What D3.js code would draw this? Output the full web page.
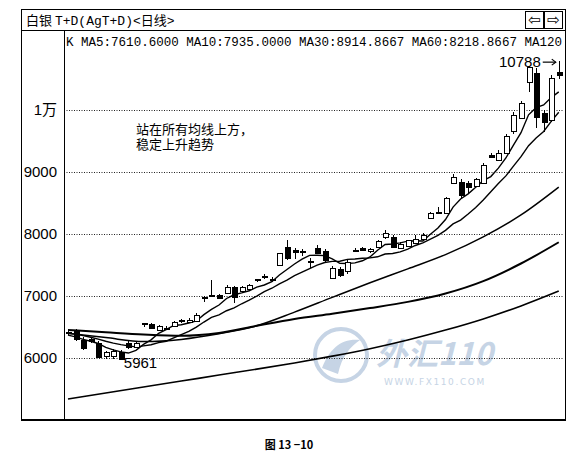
<!DOCTYPE html>
<html>
<head>
<meta charset="utf-8">
<script src="https://cdn.jsdelivr.net/npm/d3@7"></script>
<style>
  body { margin: 0; background: #fff; }
  svg { display: block; }
</style>
</head>
<body>
<div id="chart"></div>
<script>
// daily candles
const openVals = [6420, 6435, 6290, 6300, 6250, 6020, 6030, 6100, 6250, 6180,
  6560, 6550, 6450, 6490, 6520, 6610, 6580, 6600, 6980, 7010,
  7020, 7050, 7150, 7080, 7110, 7260, 7310, 7270, 7500, 7790,
  7750, 7720, 7550, 7780, 7720, 7290, 7440, 7400, 7740, 7780,
  7720, 7780, 7940, 7950, 7780, 7800, 7850, 7920, 8260, 8360,
  8340, 8830, 8840, 8820, 8770, 8820, 9280, 9200, 9310, 9660,
  9870, 10450, 10600, 9950, 9840, 10620];
const highVals = [6460, 6470, 6340, 6330, 6280, 6110, 6140, 6130, 6290, 6270,
  6570, 6570, 6540, 6520, 6600, 6630, 6640, 6720, 7000, 7260,
  7040, 7180, 7160, 7160, 7190, 7280, 7360, 7300, 7700, 7900,
  7780, 7760, 7620, 7830, 7760, 7480, 7470, 7580, 7780, 7790,
  7780, 7900, 8070, 7980, 7870, 7910, 7990, 8020, 8360, 8440,
  8600, 8960, 8880, 8860, 8910, 9140, 9300, 9350, 9610, 9960,
  10150, 10710, 10680, 10000, 10560, 10788];
const lowVals = [6370, 6280, 6130, 6240, 6010, 5990, 5990, 5961, 6150, 6160,
  6500, 6460, 6440, 6450, 6510, 6570, 6570, 6590, 6900, 6980,
  6950, 7030, 6890, 7060, 7100, 7220, 7280, 7230, 7480, 7580,
  7600, 7640, 7450, 7680, 7540, 7270, 7300, 7350, 7710, 7740,
  7700, 7770, 7920, 7770, 7760, 7790, 7840, 7900, 8250, 8320,
  8320, 8810, 8560, 8660, 8760, 8800, 9230, 9180, 9290, 9620,
  9850, 10290, 9710, 9640, 9800, 10500];
const closeVals = [6400, 6310, 6160, 6270, 6030, 6090, 6110, 5990, 6180, 6250,
  6565, 6480, 6520, 6480, 6580, 6620, 6620, 6690, 6990, 7000,
  6970, 7150, 6990, 7140, 7170, 7270, 7320, 7250, 7690, 7610,
  7710, 7710, 7560, 7700, 7580, 7450, 7340, 7550, 7750, 7750,
  7760, 7880, 8010, 7790, 7840, 7900, 7920, 7980, 8340, 8350,
  8580, 8920, 8630, 8760, 8880, 9110, 9250, 9310, 9580, 9920,
  10110, 10690, 9890, 9800, 10510, 10570];

// short moving averages, one value per candle
const ma5Vals = [6370, 6340, 6300, 6270, 6234, 6172, 6132, 6098, 6080, 6124,
  6219, 6293, 6399, 6459, 6525, 6536, 6564, 6598, 6700, 6784,
  6854, 6960, 7020, 7050, 7084, 7144, 7178, 7230, 7340, 7428,
  7516, 7594, 7656, 7658, 7652, 7600, 7526, 7524, 7534, 7568,
  7630, 7738, 7830, 7838, 7856, 7884, 7892, 7886, 7996, 8098,
  8234, 8434, 8564, 8648, 8754, 8860, 8926, 9062, 9226, 9434,
  9634, 9922, 10038, 10082, 10200, 10292];
const ma10Vals = [6400, 6385, 6360, 6335, 6305, 6270, 6240, 6215, 6195, 6179,
  6196, 6213, 6249, 6270, 6325, 6378, 6429, 6499, 6580, 6655,
  6695, 6762, 6809, 6875, 6934, 6999, 7069, 7125, 7195, 7256,
  7330, 7386, 7443, 7499, 7540, 7558, 7560, 7590, 7596, 7610,
  7615, 7632, 7677, 7686, 7712, 7757, 7815, 7858, 7917, 7977,
  8059, 8163, 8225, 8322, 8426, 8547, 8680, 8813, 8937, 9094,
  9247, 9424, 9550, 9654, 9817, 9963];

// long moving averages, read every 5 candles
const maIdx = [0, 5, 10, 15, 20, 25, 30, 35, 40, 45, 50, 55, 60, 65];
const ma30Vals = [6400, 6330, 6265, 6300, 6390, 6520, 6740, 6978, 7213, 7438, 7668, 7954, 8307, 8756];
const ma60Vals = [6452, 6415, 6380, 6360, 6405, 6520, 6630, 6715, 6805, 6905, 7040, 7240, 7524, 7867];
const ma120Vals = [5340, 5436, 5532, 5628, 5725, 5820, 5920, 6030, 6150, 6290, 6450, 6630, 6840, 7080];

// axis
const yTicks = [6000, 7000, 8000, 9000, 10000];
const yTickLabels = ["6000", "7000", "8000", "9000", "1万"];

const headerText = "K MA5:7610.6000 MA10:7935.0000 MA30:8914.8667 MA60:8218.8667 MA120";
const noteLines = ["站在所有均线上方，", "稳定上升趋势"];

const W = 577, H = 457;
const frame = { left: 21, top: 9, right: 565, bottom: 419 };
const plot = { left: 64, top: 30, right: 564, bottom: 419 };
const monoFont = "'Liberation Mono', 'Noto Sans CJK SC', monospace";
const cjkFont = "'Noto Sans CJK SC', sans-serif";

const svg = d3.select("#chart")
  .append("svg")
  .attr("width", W)
  .attr("height", H);

// scales
const x = d3.scaleLinear()
  .domain([0, openVals.length - 1])
  .range([68, 558.75]);
const y = d3.scaleLinear()
  .domain([6000, 10000])
  .range([358, 110]);

svg.append("defs").append("clipPath")
  .attr("id", "plotClip")
  .append("rect")
  .attr("x", plot.left + 1)
  .attr("y", plot.top + 1)
  .attr("width", plot.right - plot.left - 1)
  .attr("height", plot.bottom - plot.top - 1);

// watermark
const wmColor = "#c6d4e5";
const wm = svg.append("g").attr("fill", wmColor).attr("stroke", "none");
wm.append("circle")
  .attr("cx", 341).attr("cy", 355).attr("r", 26)
  .attr("fill", "none").attr("stroke", wmColor).attr("stroke-width", 4);
wm.append("path")
  .attr("d", "M322,368 C330,348 342,338 360,340 C350,347 342,356 338,374 Z");
wm.append("text")
  .attr("x", 376).attr("y", 365)
  .attr("font-family", cjkFont)
  .attr("font-size", 31)
  .attr("font-weight", "bold")
  .attr("font-style", "italic")
  .text("外汇110");
wm.append("text")
  .attr("x", 384).attr("y", 385)
  .attr("font-family", "'DejaVu Sans', sans-serif")
  .attr("font-size", 9)
  .attr("letter-spacing", 1.6)
  .text("WWW.FX110.COM");

// grid lines
svg.append("g")
  .selectAll("line")
  .data(yTicks)
  .join("line")
  .attr("x1", plot.left)
  .attr("x2", plot.right)
  .attr("y1", (d) => Math.round(y(d)) + 0.5)
  .attr("y2", (d) => Math.round(y(d)) + 0.5)
  .attr("stroke", "#222")
  .attr("stroke-width", 1)
  .attr("stroke-dasharray", "1,1.5");

// y labels
const yAxis = d3.axisLeft(y)
  .tickValues(yTicks)
  .tickSize(0)
  .tickPadding(7)
  .tickFormat((d, i) => yTickLabels[i]);
const yAxisG = svg.append("g")
  .attr("transform", `translate(${plot.left},0)`)
  .call(yAxis);
yAxisG.select(".domain").remove();
yAxisG.selectAll("text")
  .attr("font-family", "'Liberation Sans', 'Noto Sans CJK SC', sans-serif")
  .attr("font-size", 15)
  .attr("fill", "#000");

const chart = svg.append("g").attr("clip-path", "url(#plotClip)");

// moving averages
const denseLine = (vals) => d3.line()
  .x((d, i) => x(i))
  .y((d) => y(d))(vals);
const sparseLine = d3.line()
  .x((d) => x(d[0]))
  .y((d) => y(d[1]))
  .curve(d3.curveMonotoneX);

const maLines = [
  { d: sparseLine(maIdx.map((v, i) => [v, ma120Vals[i]])), w: 1.6 },
  { d: sparseLine(maIdx.map((v, i) => [v, ma60Vals[i]])), w: 2 },
  { d: sparseLine(maIdx.map((v, i) => [v, ma30Vals[i]])), w: 1.5 },
  { d: denseLine(ma10Vals), w: 1.4 },
  { d: denseLine(ma5Vals), w: 1.4 },
];
chart.append("g")
  .selectAll("path")
  .data(maLines)
  .join("path")
  .attr("d", (d) => d.d)
  .attr("fill", "none")
  .attr("stroke", "#000")
  .attr("stroke-width", (d) => d.w);

// candles
const candles = openVals.map((o, i) => ({
  i: i, o: o, h: highVals[i], l: lowVals[i], c: closeVals[i],
}));
const candleG = chart.append("g")
  .selectAll("g")
  .data(candles)
  .join("g")
  .attr("shape-rendering", "crispEdges");
candleG.append("line")
  .attr("x1", (d) => Math.round(x(d.i)) + 0.5)
  .attr("x2", (d) => Math.round(x(d.i)) + 0.5)
  .attr("y1", (d) => y(d.h))
  .attr("y2", (d) => y(d.l))
  .attr("stroke", "#000");
candleG.append("rect")
  .attr("x", (d) => Math.round(x(d.i)) - 2)
  .attr("width", 5)
  .attr("y", (d) => Math.round(y(Math.max(d.o, d.c))) + 0.5)
  .attr("height", (d) => Math.max(1, Math.round(Math.abs(y(d.o) - y(d.c)))))
  .attr("fill", (d) => (d.c >= d.o ? "#fff" : "#000"))
  .attr("stroke", "#000");

// extreme labels
const lowIdx = d3.minIndex(lowVals);
const highIdx = d3.maxIndex(highVals);
chart.append("text")
  .attr("x", x(lowIdx) + 3)
  .attr("y", y(lowVals[lowIdx]) + 8)
  .attr("font-family", "'Liberation Sans', sans-serif")
  .attr("font-size", 15)
  .text(lowVals[lowIdx]);
chart.append("text")
  .attr("x", x(highIdx) - 18)
  .attr("y", y(highVals[highIdx]) + 6)
  .attr("text-anchor", "end")
  .attr("font-family", "'Liberation Sans', sans-serif")
  .attr("font-size", 15)
  .text(highVals[highIdx]);
chart.append("path")
  .attr("d", d3.line()([
    [x(highIdx) - 16, y(highVals[highIdx]) + 1],
    [x(highIdx) - 3, y(highVals[highIdx]) + 1],
  ]))
  .attr("stroke", "#000")
  .attr("stroke-width", 1.2);
chart.append("path")
  .attr("d", d3.line()([
    [x(highIdx) - 7, y(highVals[highIdx]) - 2],
    [x(highIdx) - 3, y(highVals[highIdx]) + 1],
    [x(highIdx) - 7, y(highVals[highIdx]) + 4],
  ]))
  .attr("fill", "none")
  .attr("stroke", "#000")
  .attr("stroke-width", 1.2);

// note, two lines in one text
svg.append("text")
  .attr("y", 134)
  .attr("font-family", cjkFont)
  .attr("font-size", 13)
  .selectAll("tspan")
  .data(noteLines)
  .join("tspan")
  .attr("x", 136)
  .attr("dy", (d, i) => (i === 0 ? 0 : 15))
  .text((d) => d);

// header row
svg.append("text")
  .attr("x", 66)
  .attr("y", 45.5)
  .attr("font-family", monoFont)
  .attr("font-size", 12.6)
  .attr("textLength", 496)
  .attr("lengthAdjust", "spacingAndGlyphs")
  .text(headerText);

// frame
const frameG = svg.append("g").attr("stroke", "#000").attr("fill", "none");
frameG.append("rect")
  .attr("x", frame.left + 0.5)
  .attr("y", frame.top + 0.5)
  .attr("width", frame.right - frame.left)
  .attr("height", frame.bottom - frame.top);
frameG.append("line")
  .attr("x1", frame.left).attr("x2", frame.right)
  .attr("y1", plot.top + 0.5).attr("y2", plot.top + 0.5);
frameG.append("line")
  .attr("x1", plot.left + 0.5).attr("x2", plot.left + 0.5)
  .attr("y1", plot.top).attr("y2", plot.bottom);
frameG.append("line")
  .attr("x1", frame.left).attr("x2", frame.right + 1)
  .attr("y1", plot.bottom + 1).attr("y2", plot.bottom + 1)
  .attr("stroke-width", 2);

// title
const title = svg.append("text")
  .attr("x", 26)
  .attr("y", 25)
  .attr("font-family", monoFont)
  .attr("font-size", 13);
title.append("tspan").attr("font-family", cjkFont).text("白银 ");
title.append("tspan").text("T+D(AgT+D)<");
title.append("tspan").attr("font-family", cjkFont).text("日线");
title.append("tspan").text(">");

// scroll buttons
const btns = svg.append("g")
  .selectAll("g")
  .data(["⇦", "⇨"])
  .join("g")
  .attr("transform", (d, i) => `translate(${525 + i * 19},11)`);
btns.append("rect")
  .attr("x", 0.5).attr("y", 0.5)
  .attr("width", 18).attr("height", 17)
  .attr("fill", "#fff").attr("stroke", "#000");
btns.append("text")
  .attr("x", 9.5).attr("y", 14)
  .attr("text-anchor", "middle")
  .attr("font-family", "'DejaVu Sans', sans-serif")
  .attr("font-size", 15)
  .text((d) => d);

// caption
svg.append("text")
  .attr("x", 289)
  .attr("y", 449)
  .attr("text-anchor", "middle")
  .attr("font-family", cjkFont)
  .attr("font-size", 11)
  .attr("font-weight", "bold")
  .text("图 13 −10");
</script>
</body>
</html>
